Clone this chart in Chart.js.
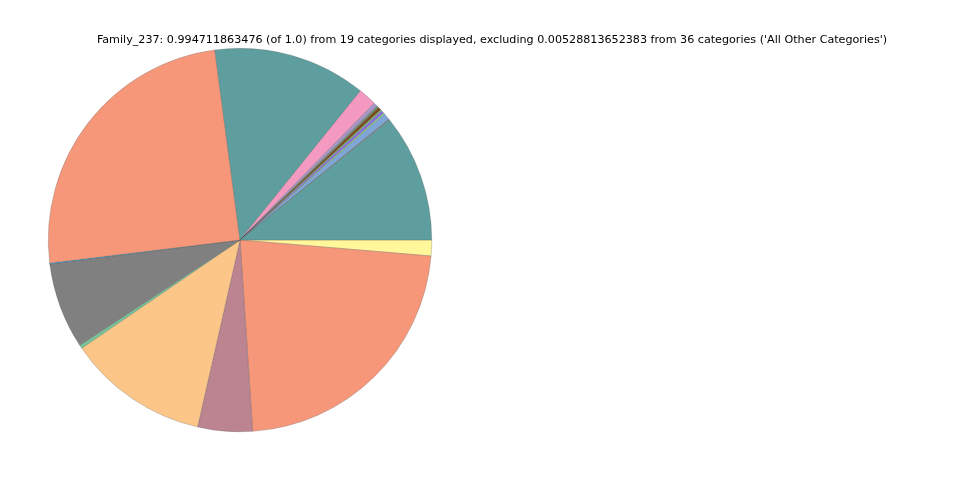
<!DOCTYPE html>
<html>
<head>
<meta charset="utf-8">
<script src="https://cdn.jsdelivr.net/npm/chart.js@4/dist/chart.umd.min.js"></script>
<style>
  body { margin: 0; background: #fff; }
  #wrap { position: relative; width: 960px; height: 480px; }
  #titulo {
    position: absolute; left: 0; width: 984px; top: 33px;
    text-align: center; font-family: "DejaVu Sans", sans-serif; font-size: 11.15px; color: #000;
  }
</style>
</head>
<body>
<div id="wrap">
  <canvas id="grafico" width="960" height="480"></canvas>
  <div id="titulo"></div>
</div>
<script>
// DADOS (ordem do matplotlib: começa às 3h, sentido anti-horário)
const titulo = "Family_237: 0.994711863476 (of 1.0) from 19 categories displayed, excluding 0.00528813652383 from 36 categories ('All Other Categories')";

const categorias = [
  "Category_01", "Category_02", "Category_03", "Category_04", "Category_05",
  "Category_06", "Category_07", "Category_08", "Category_09", "Category_10",
  "Category_11", "Category_12", "Category_13", "Category_14", "Category_15",
  "Category_16", "Category_17", "Category_18", "Category_19"
];

const valores = [
  0.1075, 0.0008, 0.0055, 0.0014, 0.0022, 0.0014, 0.0025, 0.0017, 0.0033, 0.0155,
  0.129, 0.248, 0.0008, 0.0725, 0.0028, 0.119, 0.046, 0.226, 0.0133
];

const cores = [
  "#5f9e9e", "#808080", "#7ea7d8", "#8fd18f", "#8c6be8", "#77b477", "#7a4a1a", "#6e8e6e", "#a895c8", "#f49ac1",
  "#5f9e9e", "#f7977a", "#2ca6e0", "#808080", "#77c69a", "#fdc689", "#bc8390", "#f7977a", "#fff799"
];

document.getElementById("titulo").innerText = titulo;

// Chart.js desenha no sentido horário, então invertemos
const ctx = document.getElementById('grafico').getContext('2d');
new Chart(ctx, {
  type: 'pie',
  data: {
    labels: categorias.slice().reverse(),
    datasets: [{
      data: valores.slice().reverse(),
      backgroundColor: cores.slice().reverse(),
      borderColor: 'rgba(80,80,80,0.5)',
      borderWidth: 0.5
    }]
  },
  options: {
    responsive: false,
    animation: false,
    rotation: 90,
    layout: { padding: { left: 48, right: 528, top: 48, bottom: 48 } },
    plugins: {
      legend: { display: false },
      tooltip: { enabled: false }
    }
  }
});
</script>
</body>
</html>
